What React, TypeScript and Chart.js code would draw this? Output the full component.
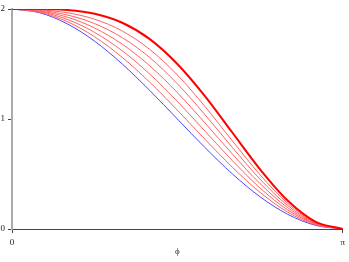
import React, { useEffect, useRef } from "react";
import { Chart, registerables } from "chart.js";

Chart.register(...registerables);

const phi = [0, 0.2618, 0.5236, 0.7854, 1.0472, 1.309, 1.5708, 1.8326, 2.0944, 2.3562, 2.618, 2.8798, 3.1416];

const blueCurve = [2, 1.966, 1.866, 1.707, 1.5, 1.259, 1.0, 0.741, 0.5, 0.293, 0.134, 0.034, 0];
const red1 = [2, 1.971, 1.886, 1.747, 1.56, 1.334, 1.08, 0.816, 0.56, 0.333, 0.154, 0.039, 0];
const red2 = [2, 1.977, 1.906, 1.787, 1.62, 1.408, 1.16, 0.89, 0.62, 0.373, 0.174, 0.045, 0];
const red3 = [2, 1.982, 1.926, 1.827, 1.68, 1.483, 1.24, 0.965, 0.68, 0.413, 0.194, 0.05, 0];
const red4 = [2, 1.987, 1.946, 1.867, 1.74, 1.558, 1.32, 1.04, 0.74, 0.453, 0.214, 0.055, 0];
const red5 = [2, 1.993, 1.966, 1.907, 1.8, 1.632, 1.4, 1.114, 0.8, 0.493, 0.234, 0.061, 0];
const redThick = [2, 2.0, 1.991, 1.957, 1.875, 1.726, 1.5, 1.208, 0.875, 0.543, 0.259, 0.068, 0];

const xTickValues = [0, 3.1416];
const xTickLabels = ["0", "π"];
const yTickValues = [0, 1, 2];
const yTickLabels = ["0", "1", "2"];
const xTitle = "ϕ";

const pts = (ys: number[]) => ys.map((y, i) => ({ x: phi[i], y }));

export default function App() {
  const ref = useRef<HTMLCanvasElement | null>(null);
  useEffect(() => {
    if (!ref.current) return;
    const font = { family: "'Liberation Serif', 'DejaVu Serif', serif", size: 9 };
    const mk = (label: string, data: number[], color: string, width: number) => ({
      label,
      data: pts(data),
      borderColor: color,
      backgroundColor: color,
      borderWidth: width,
      pointRadius: 0,
      cubicInterpolationMode: "monotone" as const,
      fill: false,
    });
    const thin = "rgb(255,96,96)";
    const chart = new Chart(ref.current, {
      type: "line",
      data: {
        datasets: [
          mk("t", redThick, "rgb(255,0,0)", 2),
          mk("r5", red5, thin, 1),
          mk("r4", red4, thin, 1),
          mk("r3", red3, thin, 1),
          mk("r2", red2, thin, 1),
          mk("r1", red1, thin, 1),
          mk("b", blueCurve, "rgb(72,72,255)", 1),
        ],
      },
      options: {
        animation: false,
        responsive: false,
        maintainAspectRatio: false,
        layout: { padding: { top: 9, right: 4, left: 0, bottom: 0 } },
        plugins: { legend: { display: false }, tooltip: { enabled: false } },
        scales: {
          x: {
            type: "linear",
            min: 0,
            max: 3.1416,
            afterBuildTicks: (s: any) => {
              s.ticks = xTickValues.map((v) => ({ value: v }));
            },
            afterFit: (s: any) => {
              s.height = 33;
            },
            ticks: {
              font,
              color: "#222",
              padding: 4,
              maxRotation: 0,
              autoSkip: false,
              callback: (v: any) => {
                const i = xTickValues.findIndex((t) => Math.abs(t - Number(v)) < 1e-3);
                return i >= 0 ? xTickLabels[i] : "";
              },
            },
            grid: { drawOnChartArea: false, drawTicks: true, tickLength: 4, color: "#444" },
            border: { display: true, color: "#444", width: 1 },
            title: { display: true, text: xTitle, font, color: "#222", padding: { top: 0, bottom: 5 } },
          },
          y: {
            type: "linear",
            min: 0,
            max: 2,
            afterBuildTicks: (s: any) => {
              s.ticks = yTickValues.map((v) => ({ value: v }));
            },
            afterFit: (s: any) => {
              s.width = 12;
            },
            ticks: {
              font,
              color: "#222",
              padding: 3,
              callback: (v: any) => {
                const i = yTickValues.indexOf(Number(v));
                return i >= 0 ? yTickLabels[i] : "";
              },
            },
            grid: { drawOnChartArea: false, drawTicks: true, tickLength: 4, color: "#444" },
            border: { display: true, color: "#aaaaaa", width: 2 },
          },
        },
      },
    });
    return () => chart.destroy();
  }, []);
  return (
    <div style={{ position: "fixed", left: 0, top: 0, width: 349, height: 262, background: "#fff" }}>
      <canvas ref={ref} width={349} height={262} style={{ width: 349, height: 262 }} />
    </div>
  );
}
